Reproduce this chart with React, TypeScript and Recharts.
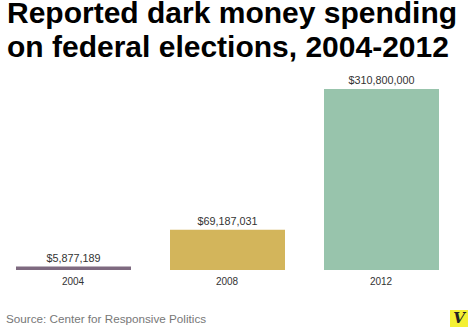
import React from 'react'
import { BarChart, Bar, XAxis, YAxis, Cell, LabelList } from 'recharts'

const years = ['2004', '2008', '2012']
const spending = [5877189, 69187031, 310800000]
const barColors = ['#7e6a80', '#d3b55b', '#98c4ac']
const titleLines = ['Reported dark money spending', 'on federal elections, 2004-2012']

const data = years.map((year, i) => ({ year, value: spending[i] }))

const money = (v: number) => '$' + v.toLocaleString('en-US')

export default function App() {
  return (
    <div style={{ position: 'absolute', left: 0, top: 0, width: 474, height: 331, background: '#fff', overflow: 'hidden', fontFamily: '"Liberation Sans", Arial, sans-serif' }}>
      <div style={{ position: 'absolute', left: 0, top: 0 }}>
        <div style={{ position: 'absolute', left: -4, top: 0 }}>
          <BarChart width={462} height={331} data={data} margin={{ top: 89, right: 0, bottom: 31, left: 0 }}>
            <XAxis dataKey="year" axisLine={false} tickLine={false} tick={{ fontSize: 10, fill: '#333' }} />
            <YAxis hide domain={[0, 310800000]} />
            <Bar dataKey="value" barSize={115} isAnimationActive={false}>
              {data.map((d, i) => (
                <Cell key={d.year} fill={barColors[i]} />
              ))}
              <LabelList dataKey="value" position="top" offset={5} formatter={(v: any) => money(Number(v))} style={{ fontSize: 10.8, fill: '#333' }} />
            </Bar>
          </BarChart>
        </div>
      </div>
      {titleLines.map((line, i) => (
        <div key={i} style={{ position: 'absolute', left: 7, top: i * 34, fontSize: 30, fontWeight: 'bold', lineHeight: '26px', color: '#000', whiteSpace: 'nowrap' }}>
          {line}
        </div>
      ))}
      <div style={{ position: 'absolute', left: 6, top: 312, fontSize: 11.7, color: '#777', whiteSpace: 'nowrap' }}>
        Source: Center for Responsive Politics
      </div>
      <div style={{ position: 'absolute', left: 450, top: 310, width: 18, height: 17, background: '#f4f033', display: 'flex', alignItems: 'center', justifyContent: 'center', fontFamily: '"DejaVu Serif", serif', fontWeight: 'bold', fontStyle: 'italic', fontSize: 15, color: '#222', lineHeight: '17px' }}>
        V
      </div>
    </div>
  )
}
